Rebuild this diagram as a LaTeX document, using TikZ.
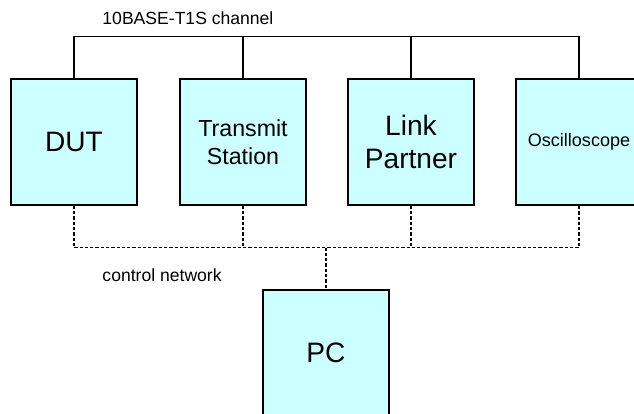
\documentclass[tikz,border=0pt]{standalone}
\usepackage{fontspec}
\setmainfont{Liberation Sans}
\definecolor{boxcyan}{RGB}{204,255,255}

\begin{document}
\begin{tikzpicture}[scale=1.0,
    unit/.style={draw, fill=boxcyan, line width=1.5pt, minimum width=3.78cm,
      minimum height=3.78cm, inner sep=0pt, align=center},
    bigtext/.style={font=\fontsize{24}{28}\selectfont},
    midtext/.style={font=\fontsize{19.8}{24}\selectfont},
    smalltext/.style={font=\fontsize{15.4}{19}\selectfont},
    labeltext/.style={font=\fontsize{15}{18}\selectfont},
    bus/.style={line width=1.2pt},
    ctrl/.style={line width=1.2pt, dash pattern=on 2.8pt off 1.7pt}]
    \clip (0,0) rectangle (19.02,12.42);
    \useasboundingbox (0,0) rectangle (19.02,12.42);
    % --- the four stations on the bus ---
    \node[unit,bigtext] (dut) at (2.22,8.16) {DUT};
    \node[unit,midtext] (tx) at (7.29,8.16) {Transmit\\Station};
    \node[unit,bigtext] (lp) at (12.33,8.16) {Link\\Partner};
    \node[unit,smalltext] (osc) at (17.37,8.16) {Oscilloscope};
    \node[unit,bigtext] (pc) at (9.78,1.83) {PC};
    % --- 10BASE-T1S channel ---
    \coordinate (top) at (0,11.32);
    \draw[bus] (dut.north) -- (dut.north |- top) -- (osc.north |- top) -- (osc.north);
    \draw[bus] (tx.north) -- (tx.north |- top);
    \draw[bus] (lp.north) -- (lp.north |- top);
    \node[labeltext,anchor=west] (chan) at (2.95,11.86) {10BASE-T1S channel};
    % --- control network ---
    \coordinate (ctl) at (0,4.99);
    \draw[ctrl] (dut.south) -- (dut.south |- ctl) -- (osc.south |- ctl) -- (osc.south);
    \draw[ctrl] (tx.south) -- (tx.south |- ctl);
    \draw[ctrl] (lp.south) -- (lp.south |- ctl);
    \draw[ctrl] (pc.north |- ctl) -- (pc.north);
    \node[labeltext,anchor=west] (net) at (2.95,4.17) {control network};
\end{tikzpicture}
\end{document}
